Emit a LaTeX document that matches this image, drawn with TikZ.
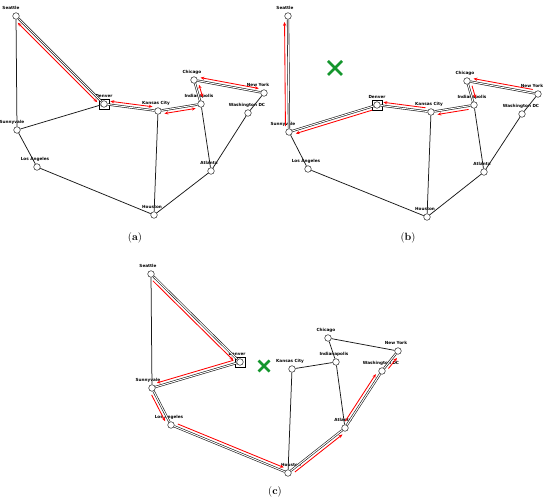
\documentclass[tikz,border=0pt]{standalone}
\usepackage{fontspec}
\usetikzlibrary{calc,arrows.meta}
\newfontfamily\lblfont{DejaVu Sans}
\definecolor{xgreen}{RGB}{20,150,45}
\tikzset{
  city/.style={circle,draw=black!80,fill=white,minimum size=6.6pt,inner sep=0pt,line width=0.55pt},
  lbl/.style={font=\lblfont\bfseries\fontsize{4.2}{4.6}\selectfont,inner sep=0.5pt},
  plainedge/.style={draw=black!90,line width=0.75pt},
  usededge/.style={draw=black!90,line width=0.6pt,double=white,double distance=1pt},
  redarr/.style={draw=red,line width=0.85pt},
  onehead/.style={-{Stealth[length=3.8pt,width=3.2pt]}},
  twohead/.style={{Stealth[length=3.8pt,width=3.2pt]}-{Stealth[length=3.8pt,width=3.2pt]}},
  sqbox/.style={draw=black,line width=0.7pt,minimum size=10pt,inner sep=0pt},
  greenx/.style={draw=xgreen,line width=2.8pt},
  captxt/.style={font=\fontsize{10.5}{12}\selectfont,inner sep=0pt}
}
\newcommand\city[4]{\node[city,label={[lbl,xshift=#4pt,label distance=1.8pt]above:#3}] (#1) at (#2) {};}
\newcommand\rarr[4][onehead]{\draw[redarr,#1] ($(#2)!6pt!(#3)!#4!90:(#3)$) -- ($(#3)!6pt!(#2)!#4!-90:(#2)$);}
\begin{document}
\begin{tikzpicture}[x=1pt,y=-1pt]
\useasboundingbox (0,0) rectangle (550,500);
% ---------------- panel (a)
\city{aSea}{16,16}{Seattle}{-5}
\city{aDen}{104,104}{Denver}{0}
\city{aKC}{158,111}{Kansas City}{-2}
\city{aInd}{201,104}{Indianapolis}{-2}
\city{aChi}{194,80}{Chicago}{-2}
\city{aNY}{264,93}{New York}{-6}
\city{aWas}{248,113}{Washington DC}{-1}
\city{aSun}{17,130}{Sunnyvale}{-5}
\city{aLA}{37,167}{Los Angeles}{-2}
\city{aAtl}{211,171}{Atlanta}{-2}
\city{aHou}{154,215}{Houston}{-2}
\node[sqbox] (aDsq) at (aDen) {};
\draw[plainedge] (aSea) -- (aSun);
\draw[usededge] (aSea) -- (aDen);
\draw[plainedge] (aSun) -- (aDen);
\draw[plainedge] (aSun) -- (aLA);
\draw[plainedge] (aLA) -- (aHou);
\draw[usededge] (aDen) -- (aKC);
\draw[plainedge] (aKC) -- (aHou);
\draw[usededge] (aKC) -- (aInd);
\draw[usededge] (aInd) -- (aChi);
\draw[usededge] (aChi) -- (aNY);
\draw[plainedge] (aNY) -- (aWas);
\draw[plainedge] (aWas) -- (aAtl);
\draw[plainedge] (aInd) -- (aAtl);
\draw[plainedge] (aAtl) -- (aHou);
\rarr[twohead]{aSea}{aDen}{-3.5pt}
\rarr[twohead]{aDen}{aKC}{3.5pt}
\rarr[twohead]{aKC}{aInd}{-3.5pt}
\rarr[twohead]{aInd}{aChi}{-3.5pt}
\rarr[twohead]{aChi}{aNY}{3.5pt}
\node[captxt] (capA) at (135,238) {(\textbf{a})};
% ---------------- panel (b)
\city{bSea}{288,16}{Seattle}{-3}
\city{bDen}{377,105}{Denver}{0}
\city{bKC}{431,112}{Kansas City}{-2}
\city{bInd}{474,105}{Indianapolis}{-2}
\city{bChi}{467,81}{Chicago}{-2}
\city{bNY}{538,94}{New York}{-6}
\city{bWas}{522,114}{Washington DC}{-1}
\city{bSun}{289,132}{Sunnyvale}{-6}
\city{bLA}{308,169}{Los Angeles}{-2}
\city{bAtl}{484,172}{Atlanta}{-2}
\city{bHou}{427,217}{Houston}{-2}
\node[sqbox] (bDsq) at (bDen) {};
\draw[usededge] (bSea) -- (bSun);
\draw[usededge] (bSun) -- (bDen);
\draw[plainedge] (bSun) -- (bLA);
\draw[plainedge] (bLA) -- (bHou);
\draw[usededge] (bDen) -- (bKC);
\draw[plainedge] (bKC) -- (bHou);
\draw[usededge] (bKC) -- (bInd);
\draw[usededge] (bInd) -- (bChi);
\draw[usededge] (bChi) -- (bNY);
\draw[plainedge] (bNY) -- (bWas);
\draw[plainedge] (bWas) -- (bAtl);
\draw[plainedge] (bInd) -- (bAtl);
\draw[plainedge] (bAtl) -- (bHou);
\rarr{bSun}{bSea}{3.5pt}
\rarr{bDen}{bSun}{3.5pt}
\rarr{bKC}{bDen}{-3.5pt}
\rarr{bInd}{bKC}{3.5pt}
\rarr{bChi}{bInd}{3.5pt}
\rarr{bNY}{bChi}{-3.5pt}
\coordinate (bX) at (335,68);
\draw[greenx] ($(bX)+(-7,-7)$) -- ($(bX)+(7,7)$);
\draw[greenx] ($(bX)+(-7,7)$) -- ($(bX)+(7,-7)$);
\node[captxt] (capB) at (408,238) {(\textbf{b})};
% ---------------- panel (c)
\city{cSea}{151,274}{Seattle}{-3}
\city{cDen}{240,362}{Denver}{-3}
\city{cKC}{292,369}{Kansas City}{-2}
\city{cInd}{336,362}{Indianapolis}{-2}
\city{cChi}{328,338}{Chicago}{-2}
\city{cNY}{398,351}{New York}{-2}
\city{cWas}{382,371}{Washington DC}{-1}
\city{cSun}{152,388}{Sunnyvale}{-4}
\city{cLA}{171,425}{Los Angeles}{-2}
\city{cAtl}{345,428}{Atlanta}{-2}
\city{cHou}{288,473}{Houston}{3}
\node[sqbox] (cDsq) at (cDen) {};
\draw[plainedge] (cSea) -- (cSun);
\draw[usededge] (cSea) -- (cDen);
\draw[usededge] (cDen) -- (cSun);
\draw[usededge] (cSun) -- (cLA);
\draw[usededge] (cLA) -- (cHou);
\draw[plainedge] (cKC) -- (cHou);
\draw[plainedge] (cKC) -- (cInd);
\draw[plainedge] (cInd) -- (cChi);
\draw[plainedge] (cChi) -- (cNY);
\draw[usededge] (cWas) -- (cNY);
\draw[usededge] (cAtl) -- (cWas);
\draw[plainedge] (cInd) -- (cAtl);
\draw[usededge] (cHou) -- (cAtl);
\rarr{cSea}{cDen}{-3.5pt}
\rarr{cDen}{cSun}{-3.5pt}
\rarr{cSun}{cLA}{-3.5pt}
\rarr{cLA}{cHou}{3.5pt}
\rarr{cHou}{cAtl}{-3.5pt}
\rarr{cAtl}{cWas}{3.5pt}
\rarr{cWas}{cNY}{-3.5pt}
\coordinate (cX) at (264,366);
\draw[greenx] ($(cX)+(-5.5,-5.5)$) -- ($(cX)+(5.5,5.5)$);
\draw[greenx] ($(cX)+(-5.5,5.5)$) -- ($(cX)+(5.5,-5.5)$);
\node[captxt] (capC) at (275,492) {(\textbf{c})};
\end{tikzpicture}
\end{document}
